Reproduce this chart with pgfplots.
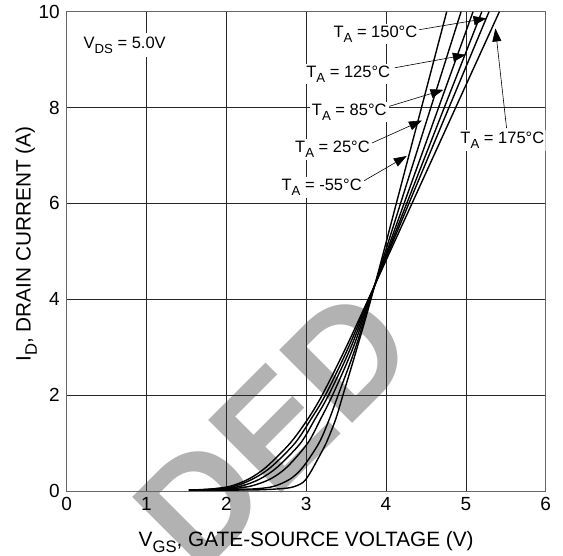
\documentclass[border=0pt]{standalone}
\usepackage{fontspec}
\setmainfont{Liberation Sans}
\usepackage{graphicx}
\usepackage{pgfplots}
\pgfplotsset{compat=1.18}
\usetikzlibrary{arrows.meta}
\newcommand{\sub}[1]{\raisebox{-0.3em}{\scalebox{0.8}{#1}}}
\pgfplotsset{curve/.style={black, line width=1.4pt, smooth, no markers}}

\begin{document}
\begin{tikzpicture}
\path[use as bounding box] (-66.7pt,-65pt) rectangle (496.3pt,491pt);
% watermark, behind everything
\begin{scope}
\clip (-66.7pt,-65pt) rectangle (496.3pt,491pt);
\node[rotate=45, text=black!30, inner sep=0pt, font=\fontsize{150}{150}\selectfont\bfseries] at (207pt,62pt) {DED};
\end{scope}
\begin{axis}[
  at={(0,0)}, anchor=south west,
  width=479pt, height=479.3pt, scale only axis,
  xmin=0, xmax=6, ymin=0, ymax=10,
  xtick={0,...,6}, ytick={0,2,...,10},
  major tick length=0pt,
  grid=major, grid style={black!85, line width=0.6pt},
  axis line style={black!60, line width=0.9pt},
  tick label style={font=\fontsize{19}{19}\selectfont},
  /pgf/number format/assume math mode=true,
  xticklabel style={yshift=-2.7pt}, yticklabel style={xshift=-3.4pt},
  xlabel={V\sub{GS}, GATE-SOURCE VOLTAGE (V)},
  ylabel={I\sub{D}, DRAIN CURRENT (A)},
  label style={font=\fontsize{20.8}{21}\selectfont},
  xlabel style={at={(axis description cs:0.5,-0.1162)}, anchor=base},
  ylabel style={at={(axis description cs:-0.0752,0.5153)}, anchor=base},
  clip=true,
]
% T_A = 175 C
\addplot[curve] coordinates {(1.53,0.02) (1.8,0.04) (2.05,0.1) (2.28,0.25) (2.5,0.5) (2.8,1.0) (3.02,1.5) (3.2,2.0) (3.5,3.0) (3.86,4.3) (4.64,7.15) (5.42,10)};
% 150 C
\addplot[curve] coordinates {(1.53,0.02) (1.8,0.035) (2.1,0.1) (2.33,0.25) (2.56,0.5) (2.86,1.0) (3.06,1.5) (3.24,2.0) (3.53,3.0) (3.86,4.3) (4.575,7.15) (5.29,10)};
% 125 C
\addplot[curve] coordinates {(1.53,0.02) (1.9,0.04) (2.18,0.1) (2.42,0.25) (2.64,0.5) (2.93,1.0) (3.11,1.5) (3.28,2.0) (3.56,3.0) (3.86,4.3) (4.53,7.15) (5.2,10)};
% 85 C
\addplot[curve] coordinates {(1.53,0.02) (2.0,0.04) (2.3,0.1) (2.55,0.25) (2.76,0.5) (3.02,1.0) (3.18,1.5) (3.33,2.0) (3.59,3.0) (3.86,4.3) (4.475,7.15) (5.09,10)};
% 25 C
\addplot[curve] coordinates {(1.53,0.02) (2.1,0.03) (2.4,0.05) (2.6,0.1) (2.8,0.25) (2.96,0.5) (3.16,1.0) (3.29,1.5) (3.4,2.0) (3.62,3.0) (3.86,4.3) (4.4,7.15) (4.94,10)};
% -55 C
\addplot[curve] coordinates {(1.53,0.02) (2.2,0.02) (2.5,0.03) (2.8,0.07) (2.96,0.18) (3.05,0.38) (3.13,0.62) (3.25,1.0) (3.37,1.5) (3.46,2.0) (3.64,3.0) (3.86,4.3) (4.31,7.15) (4.76,10)};

% arrows
\begin{scope}[line width=0.6pt, -{Triangle[length=13pt,width=9pt]}]
\draw (axis cs:4.40,9.62) -- (axis cs:5.26,9.86);
\draw (axis cs:4.11,8.83) -- (axis cs:5.00,9.10);
\draw (axis cs:3.99,8.00) -- (axis cs:4.72,8.37);
\draw (axis cs:3.77,7.22) -- (axis cs:4.45,7.73);
\draw (axis cs:3.67,6.42) -- (axis cs:4.26,6.99);
\draw (axis cs:5.51,7.57) -- (axis cs:5.37,9.65);
\end{scope}

% labels
\begin{scope}[every node/.style={anchor=base west, fill=white, inner sep=2pt, font=\fontsize{16.5}{17}\selectfont}]
\node at (axis cs:3.315,9.47) {T\sub{A} = 150°C};
\node at (axis cs:2.975,8.63) {T\sub{A} = 125°C};
\node at (axis cs:3.045,7.84) {T\sub{A} = 85°C};
\node at (axis cs:2.835,7.06) {T\sub{A} = 25°C};
\node at (axis cs:2.665,6.26) {T\sub{A} = -55°C};
\node at (axis cs:4.905,7.24) {T\sub{A} = 175°C};
\node[inner sep=4pt] at (axis cs:0.16,9.24) {V\sub{DS} = 5.0V};
\end{scope}
\end{axis}
\end{tikzpicture}
\end{document}
